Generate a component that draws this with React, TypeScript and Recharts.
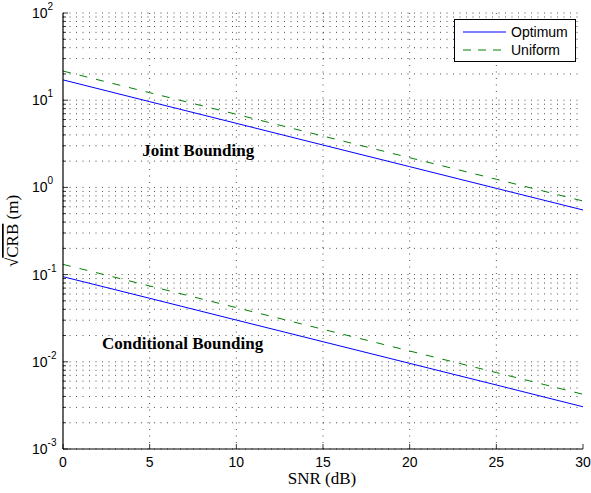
import React from 'react'
import {
  LineChart,
  Line,
  XAxis,
  YAxis,
  CartesianGrid,
  Legend,
  ReferenceDot,
} from 'recharts'

// SNR in dB
const snr = [0, 5, 10, 15, 20, 25, 30]
// sqrt(CRB) in metres
const jointOptimum = [17.1, 9.62, 5.43, 3.06, 1.73, 0.975, 0.551]
const jointUniform = [21.6, 12.2, 6.89, 3.88, 2.19, 1.24, 0.698]
const condOptimum = [0.0946, 0.0535, 0.0301, 0.017, 0.0096, 0.00542, 0.00305]
const condUniform = [0.131, 0.0741, 0.0418, 0.0236, 0.0133, 0.00752, 0.00424]

const xTicks = [0, 5, 10, 15, 20, 25, 30]
const decades = [0.001, 0.01, 0.1, 1, 10]
const yTicks = [...decades.flatMap((d) => [1, 2, 3, 4, 5, 6, 7, 8, 9].map((m) => +(m * d).toPrecision(3))), 100]

const data = snr.map((s, i) => ({
  snr: s,
  jo: jointOptimum[i],
  ju: jointUniform[i],
  co: condOptimum[i],
  cu: condUniform[i],
}))

const SANS = '"Liberation Sans", Arial, Helvetica, sans-serif'
const SERIF = '"Liberation Serif", "Times New Roman", serif'

const isMajor = (v: number) => Math.abs(Math.log10(v) - Math.round(Math.log10(v))) < 1e-6

const LeftTick = (p: any) => {
  const { x, y, payload } = p
  const v = payload.value
  const major = isMajor(v)
  const e = Math.round(Math.log10(v))
  return (
    <g>
      <line x1={x} x2={x + (major ? 5 : 3)} y1={y} y2={y} stroke="#000" strokeWidth={0.8} />
      {major && (
        <text x={x - 31} y={y + 5} fontSize={14} fontFamily={SANS} fill="#000">
          10
          <tspan dy={-8} fontSize={10}>
            {e}
          </tspan>
        </text>
      )}
    </g>
  )
}

const RightTick = (p: any) => {
  const { x, y, payload } = p
  const major = isMajor(payload.value)
  return <line x1={x} x2={x - (major ? 5 : 3)} y1={y} y2={y} stroke="#000" strokeWidth={0.8} />
}

const BottomTick = (p: any) => {
  const { x, y, payload } = p
  return (
    <g>
      <line x1={x} x2={x} y1={y} y2={y - 5} stroke="#000" strokeWidth={0.8} />
      <text x={x} y={y + 18} textAnchor="middle" fontSize={14} fontFamily={SANS} fill="#000">
        {payload.value}
      </text>
    </g>
  )
}

const TopTick = (p: any) => {
  const { x, y } = p
  return <line x1={x} x2={x} y1={y} y2={y + 5} stroke="#000" strokeWidth={0.8} />
}

const LegendBox = () => (
  <svg width={122} height={43} style={{ display: 'block' }}>
    <rect x={0.5} y={0.5} width={121} height={42} fill="#fff" stroke="#000" />
    <line x1={9} x2={52} y1={13} y2={13} stroke="#0000ff" strokeWidth={1} />
    <text x={57} y={18} fontSize={14} fontFamily={SANS} fill="#000">
      Optimum
    </text>
    <line x1={9} x2={52} y1={31} y2={31} stroke="#008000" strokeWidth={1} strokeDasharray="8 7" />
    <text x={57} y={36} fontSize={14} fontFamily={SANS} fill="#000">
      Uniform
    </text>
  </svg>
)

const textLabel = (value: string) => (props: any) => {
  const { viewBox } = props
  return (
    <text
      x={viewBox.x}
      y={viewBox.y + 6}
      textAnchor="middle"
      fontSize={17}
      fontWeight="bold"
      fontFamily={SERIF}
      fill="#000"
    >
      {value}
    </text>
  )
}

export default function App() {
  return (
    <div style={{ position: 'absolute', left: 0, top: 0, background: '#fff' }}>
      <LineChart width={591} height={493} data={data} margin={{ top: 13, right: 8, bottom: 0, left: 0 }}>
        <CartesianGrid
          stroke="#000"
          strokeWidth={0.7}
          strokeDasharray="1 5.5"
          verticalValues={[5, 10, 15, 20, 25]}
        />
        <XAxis
          dataKey="snr"
          type="number"
          domain={[0, 30]}
          ticks={xTicks}
          height={44}
          tickSize={0}
          tickMargin={0}
          tick={<BottomTick />}
          axisLine={{ stroke: '#000', strokeWidth: 1.2 }}
          tickLine={false}
          label={{
            content: () => (
              <text x={322} y={484} textAnchor="middle" fontSize={17} fontFamily={SERIF} fill="#000">
                SNR (dB)
              </text>
            ),
          }}
        />
        <XAxis
          xAxisId="top"
          orientation="top"
          dataKey="snr"
          type="number"
          domain={[0, 30]}
          ticks={xTicks}
          height={0}
          tickSize={0}
          tickMargin={0}
          tick={<TopTick />}
          axisLine={{ stroke: '#000', strokeWidth: 1.2 }}
          tickLine={false}
        />
        <YAxis
          type="number"
          scale="log"
          domain={[0.001, 100]}
          allowDataOverflow
          ticks={yTicks}
          interval={0}
          width={63}
          tickSize={0}
          tickMargin={0}
          tick={<LeftTick />}
          axisLine={{ stroke: '#000', strokeWidth: 1.2 }}
          tickLine={false}
          label={{
            content: () => (
              <text
                x={18}
                y={231}
                transform="rotate(-90 18 231)"
                textAnchor="middle"
                fontSize={17}
                fontFamily={SERIF}
                fill="#000"
              >
                √<tspan textDecoration="overline" style={{ textDecoration: 'overline' }}>CRB</tspan> (m)
              </text>
            ),
          }}
        />
        <YAxis
          yAxisId="right"
          orientation="right"
          type="number"
          scale="log"
          domain={[0.001, 100]}
          allowDataOverflow
          ticks={yTicks}
          interval={0}
          width={0}
          tickSize={0}
          tickMargin={0}
          tick={<RightTick />}
          axisLine={{ stroke: '#000', strokeWidth: 1.2 }}
          tickLine={false}
        />
        <Legend
          layout="horizontal"
          verticalAlign="middle"
          align="center"
          wrapperStyle={{ position: 'absolute', left: 454, top: 19, width: 122, height: 43 }}
          content={<LegendBox />}
        />
        <Line dataKey="jo" stroke="#0000ff" strokeWidth={1} dot={false} isAnimationActive={false} legendType="none" />
        <Line
          dataKey="ju"
          stroke="#008000"
          strokeWidth={1}
          strokeDasharray="8 9"
          dot={false}
          isAnimationActive={false}
        />
        <Line dataKey="co" stroke="#0000ff" strokeWidth={1} dot={false} isAnimationActive={false} />
        <Line
          dataKey="cu"
          stroke="#008000"
          strokeWidth={1}
          strokeDasharray="8 9"
          dot={false}
          isAnimationActive={false}
        />
        <ReferenceDot x={7.8} y={2.69} r={0} stroke="none" fill="none" label={{ content: textLabel('Joint Bounding') }} />
        <ReferenceDot
          x={6.9}
          y={0.0164}
          r={0}
          stroke="none"
          fill="none"
          label={{ content: textLabel('Conditional Bounding') }}
        />
      </LineChart>
    </div>
  )
}
